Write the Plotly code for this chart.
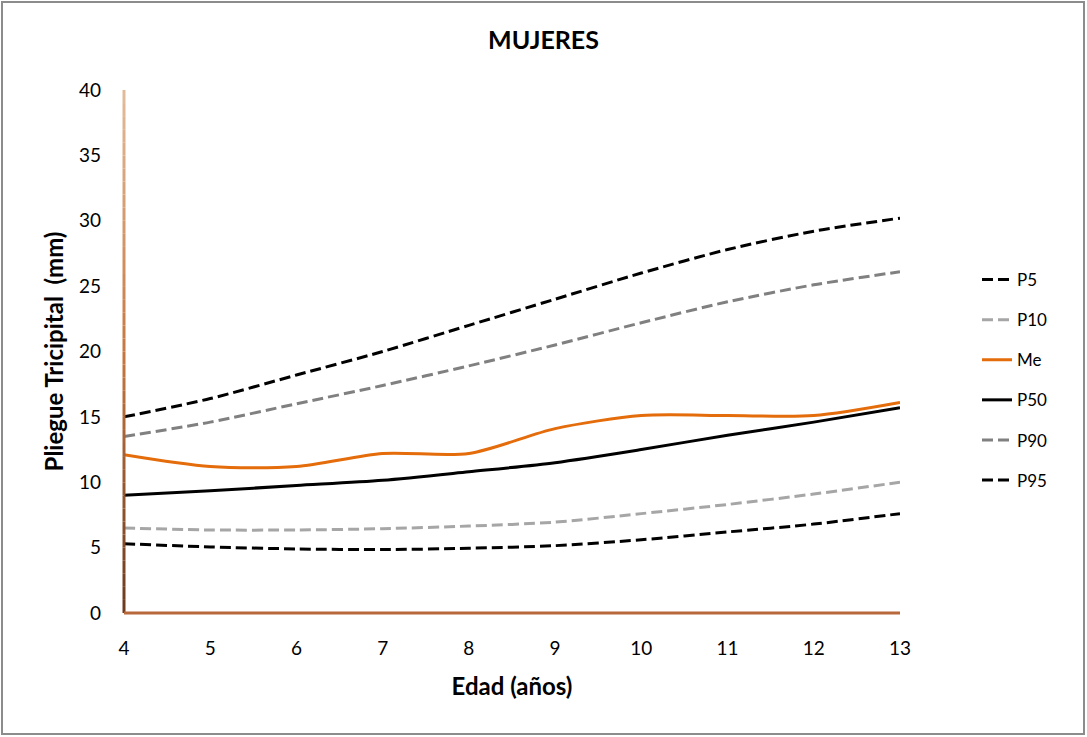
import plotly.graph_objects as go

edad = [4, 5, 6, 7, 8, 9, 10, 11, 12, 13]
p5 = [15.0, 16.4, 18.2, 20.0, 22.0, 24.0, 26.0, 27.8, 29.2, 30.2]
p10 = [6.5, 6.35, 6.35, 6.45, 6.65, 6.95, 7.6, 8.3, 9.1, 10.0]
me = [12.1, 11.2, 11.2, 12.2, 12.2, 14.1, 15.1, 15.1, 15.1, 16.1]
p50 = [9.0, 9.35, 9.75, 10.15, 10.8, 11.5, 12.5, 13.6, 14.6, 15.7]
p90 = [13.5, 14.6, 16.0, 17.4, 18.9, 20.5, 22.2, 23.8, 25.1, 26.1]
p95 = [5.3, 5.05, 4.9, 4.85, 4.95, 5.15, 5.6, 6.2, 6.8, 7.6]

series = [
    ("P5", p5, "#000000", "11px,5px"),
    ("P10", p10, "#A6A6A6", "11px,5px"),
    ("Me", me, "#E46C0A", "solid"),
    ("P50", p50, "#000000", "solid"),
    ("P90", p90, "#808080", "11px,5px"),
    ("P95", p95, "#000000", "11px,5px"),
]

fig = go.Figure()
for name, vals, color, dash in series:
    fig.add_trace(go.Scatter(
        x=edad, y=vals, name=name, mode="lines", legendgroup=name,
        line=dict(color=color, width=3, dash=dash, shape="spline", smoothing=0.8),
    ))

W, H = 1087, 737
L, R, T, B = 124, 187, 90, 124
pw, ph = W - L - R, H - T - B

fig.update_layout(
    width=W, height=H,
    margin=dict(l=L, r=R, t=T, b=B),
    paper_bgcolor="white", plot_bgcolor="white",
    font=dict(family="Lato, Liberation Sans, sans-serif", size=19, color="#000000"),
    title=dict(text="<b>MUJERES</b>", x=0.5, xanchor="center", y=1 - 40 / H, yanchor="middle",
               font=dict(size=25)),
    showlegend=True,
    legend=dict(x=(977 - L) / pw, xanchor="left", y=(613 - 262) / ph, yanchor="top",
                font=dict(size=17), tracegroupgap=15, bgcolor="rgba(0,0,0,0)"),
    xaxis=dict(range=[4, 13], tickmode="array", tickvals=edad, showgrid=False, zeroline=False,
               showline=False, ticks="", ticklabelstandoff=22,
               title=dict(text="<b>Edad (años)</b>", font=dict(size=24), standoff=20)),
    yaxis=dict(range=[0, 40], dtick=5, showgrid=False, zeroline=False, showline=False,
               ticks="", ticklabelstandoff=22,
               title=dict(text="<b>Pliegue Tricipital  (mm)</b>", font=dict(size=24), standoff=8)),
)

# y-axis line with gradient (light top -> dark bottom)
top_c = (0xE2, 0xBC, 0x9C)
mid_c = (0xC8, 0x78, 0x40)
bot_c = (0x6B, 0x3A, 0x1E)
n = 40
for i in range(n):
    t = (i + 0.5) / n
    if t > 0.5:
        u = (t - 0.5) / 0.5
        c = tuple(int(mid_c[k] + (top_c[k] - mid_c[k]) * u) for k in range(3))
    else:
        u = t / 0.5
        c = tuple(int(bot_c[k] + (mid_c[k] - bot_c[k]) * u) for k in range(3))
    fig.add_shape(type="line", xref="paper", yref="paper", x0=0, x1=0,
                  y0=i / n, y1=(i + 1) / n,
                  line=dict(color="#%02X%02X%02X" % c, width=3), layer="above")
# x-axis line
fig.add_shape(type="line", xref="paper", yref="paper", x0=0, x1=1, y0=0, y1=0,
              line=dict(color="#B8683A", width=3), layer="above")
# outer border
fig.add_shape(type="rect", xref="paper", yref="paper",
              x0=(2 - L) / pw, x1=(W - 3 - L) / pw, y0=-(H - 3 - T - ph) / ph, y1=1 + (T - 2) / ph,
              line=dict(color="#8C8C8C", width=2), layer="below")

fig.write_html("out.html", config={"displayModeBar": False},
               post_script="document.body.style.margin='0';document.body.style.padding='0';document.body.style.overflow='hidden';")
